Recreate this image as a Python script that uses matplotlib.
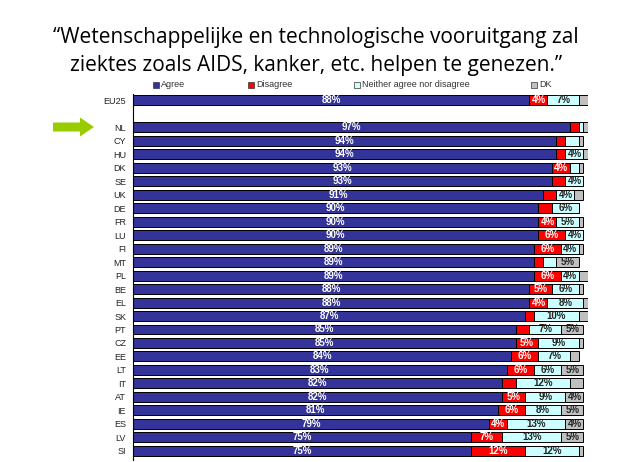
import matplotlib
matplotlib.use("Agg")
import matplotlib.pyplot as plt
from matplotlib.patches import Rectangle, FancyArrow

countries = ["EU25", "NL", "CY", "HU", "DK", "SE", "UK", "DE", "FR", "LU", "FI", "MT",
             "PL", "BE", "EL", "SK", "PT", "CZ", "EE", "LT", "IT", "AT", "IE", "ES", "LV", "SI"]
agree =    [88, 97, 94, 94, 93, 93, 91, 90, 90, 90, 89, 89, 89, 88, 88, 87, 85, 85, 84, 83, 82, 82, 81, 79, 75, 75]
disagree = [4, 2, 2, 2, 4, 3, 3, 3, 4, 6, 6, 2, 6, 5, 4, 2, 3, 5, 6, 6, 3, 5, 6, 4, 7, 12]
neither =  [7, 1, 3, 4, 2, 4, 4, 6, 5, 4, 4, 3, 4, 6, 8, 10, 7, 9, 7, 6, 12, 9, 8, 13, 13, 12]
dk =       [2, 1, 1, 1, 1, 0, 2, 0, 1, 0, 1, 5, 2, 1, 1, 2, 5, 1, 2, 5, 3, 4, 5, 4, 5, 1]
series_names = ["Agree", "Disagree", "Neither agree nor disagree", "DK"]
title_lines = ["\u201cWetenschappelijke en technologische vooruitgang zal",
               "ziektes zoals AIDS, kanker, etc. helpen te genezen.\u201d"]
highlight = "NL"

colors = ["#333399", "#FF0000", "#CCFFFF", "#C0C0C0"]
label_colors = ["white", "white", "#222222", "#222222"]

fig = plt.figure(figsize=(6.24, 4.62), dpi=100)
ax = fig.add_axes([133/624, 2/462, 455/624, 366/462])

# row positions: EU25 then an empty row, then countries
ypos = [0] + [i + 1 for i in range(1, len(countries))]

series = [agree, disagree, neither, dk]
left = [0.0] * len(countries)
for s, vals in enumerate(series):
    ax.barh(ypos, vals, left=left, height=0.74, color=colors[s],
            edgecolor="black", linewidth=0.7)
    for y, l, v in zip(ypos, left, vals):
        if v >= 4:
            ax.text(l + v / 2, y, f"{v}%", ha="center", va="center",
                    fontsize=7, fontweight="bold", color=label_colors[s],
                    family="Liberation Sans")
    left = [a + b for a, b in zip(left, vals)]

ax.set_xlim(0, 101)
ax.set_ylim(26.67, -0.45)
ax.set_yticks(ypos)
ax.set_yticklabels(countries, fontsize=6.5, family="Liberation Sans", color="#222222")
ax.tick_params(axis="y", length=0, pad=5)
ax.set_xticks([])
for side in ["top", "right", "bottom"]:
    ax.spines[side].set_visible(False)
ax.spines["left"].set_linewidth(0.8)

# legend (drawn first so the title sits over it)
leg_x = [156, 251, 357, 534]
leg_y = 85
for s, name in enumerate(series_names):
    fig.add_artist(Rectangle(((leg_x[s] - 3) / 624, 1 - (leg_y + 3) / 462), 6/624, 6/462,
                             transform=fig.transFigure, facecolor=colors[s],
                             edgecolor="#333333", linewidth=0.5))
    fig.text((leg_x[s] + 5) / 624, 1 - leg_y / 462, name, ha="left", va="center",
             fontsize=6.5, family="Liberation Sans", color="#333333")

# title
fig.text(316/624, 1 - 38/462, title_lines[0], ha="center", va="center",
         fontsize=15, family="Open Sans", color="black")
fig.text(316/624, 1 - 65/462, title_lines[1], ha="center", va="center",
         fontsize=15, family="Open Sans", color="black")

# green arrow pointing to highlighted country
hy = ypos[countries.index(highlight)]
ypix = 100 + 13.5 * hy
fig.add_artist(FancyArrow(53/624, 1 - ypix/462, 41/624, 0, width=9/462,
                          head_width=19/462, head_length=14/624,
                          length_includes_head=True, transform=fig.transFigure,
                          color="#99CC00", linewidth=0))

fig.savefig("out.png", dpi=100)
